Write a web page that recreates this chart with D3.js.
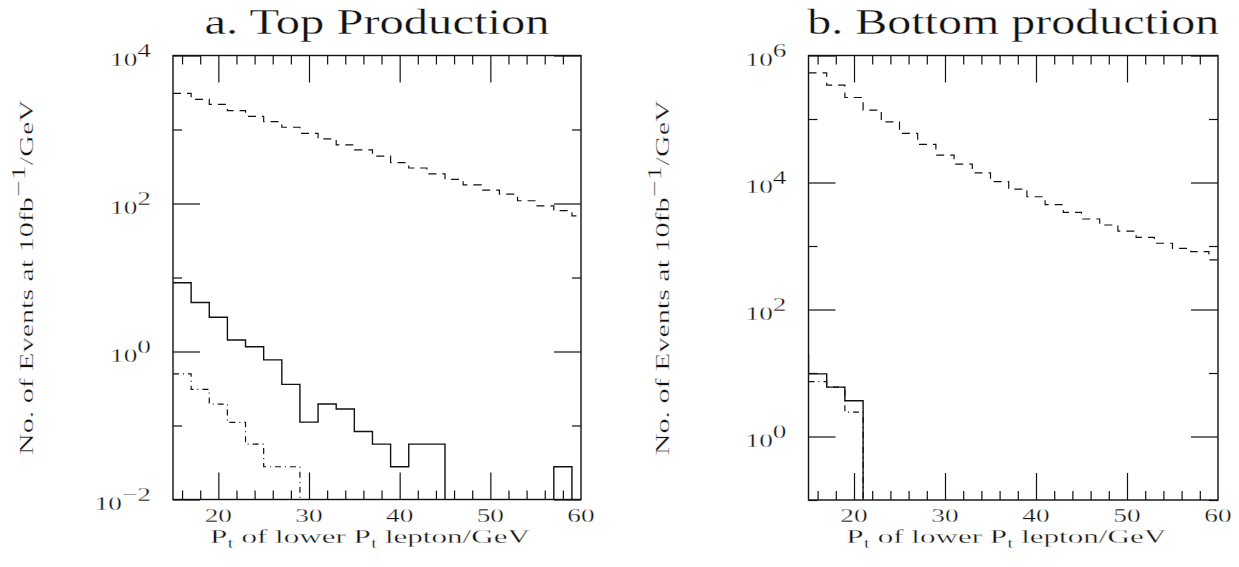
<!DOCTYPE html>
<html><head><meta charset="utf-8">
<script src="https://cdn.jsdelivr.net/npm/d3@7"></script>
<style>
body{margin:0;background:#fff}
svg{display:block}
text{font-family:"Liberation Serif","DejaVu Serif",serif;fill:#111;stroke:#fff;stroke-width:0.3px;paint-order:fill}
</style>
</head><body>
<svg id="c" width="1239" height="567"></svg>
<script>
// ---------- data ----------
const binStarts = [15,17,19,21,23,25,27,29,31,33,35,37,39,41,43,45,47,49,51,53,55,57,59];
const binWidth = 2;
// a. Top production
const topDashed  = [3085,2560,2188,1795,1507,1274,1072,889,745,618,529,438,356,302,251,212,178,152,134,109,93,80,68];
const topSolid   = [8.5,4.6,2.9,1.43,1.16,0.77,0.36,0.111,0.195,0.167,0.083,0.056,0.0277,0.056,0.056,0,0,0,0,0,0,0.0277,0];
const topDashDot = [0.5,0.308,0.195,0.110,0.056,0.0277,0.0277,0,0,0,0,0,0,0,0,0,0,0,0,0,0,0,0];
// b. Bottom production
const botDashed  = [533000,341000,218000,138000,90100,59300,39800,27000,19500,14200,10300,7890,5970,4470,3390,2660,2140,1720,1370,1105,920,813,603];
const botSolid   = [9.7,5.99,3.65,0,0,0,0,0,0,0,0,0,0,0,0,0,0,0,0,0,0,0,0];
const botSolidPrevBin = [13, 19];   // bin just left of the window (13-15 GeV)
const botDashDot = [7.3,5.99,2.42,0,0,0,0,0,0,0,0,0,0,0,0,0,0,0,0,0,0,0,0];

const xMajorTicks = [20,30,40,50];
const xMinorTicks = [16,18,22,24,26,28,32,34,36,38,42,44,46,48,52,54,56,58];
const xTickLabels = [20,30,40,50,60];
const topYLabelExp = [-2,0,2,4];
const topYMinorExp = [-1,1,3];
const botYLabelExp = [0,2,4,6];
const botYMinorExp = [-1,1,3,5];

const titles = ["a. Top Production","b. Bottom production"];
const xLabel = ["P","t"," of lower ","P","t"," lepton/GeV"];
const yLabel = ["No. of Events at 10fb","\u22121","/GeV"];

// ---------- drawing ----------
const svg = d3.select("#c");
const INK = "#111";

function fitGroup(g, target){
  const w = g.select("text").node().getBBox().width;
  return target / w;
}

function panel(cfg){
  const {x0,x1,yTop,yBot,ydom,labelExp,minorExp,series,title,titleW,id} = cfg;
  const x = d3.scaleLinear().domain([15,60]).range([x0,x1]);
  const y = d3.scaleLog().domain(ydom).range([yBot,yTop]);
  const g = svg.append("g");

  g.append("clipPath").attr("id","clip"+id).append("rect")
    .attr("x",x0).attr("y",yTop).attr("width",x1-x0).attr("height",yBot-yTop);

  // histograms
  const yv = v => v>0 ? y(v) : yBot+30;
  const line = d3.line().x(d=>x(d[0])).y(d=>yv(d[1])).curve(d3.curveStepAfter);
  const plot = g.append("g").attr("clip-path","url(#clip"+id+")");
  series.forEach(s=>{
    let pts = binStarts.map((b,i)=>[b,s.values[i]]);
    pts.push([binStarts[binStarts.length-1]+binWidth, s.values[s.values.length-1]]);
    if(s.prev) pts.unshift(s.prev);
    plot.append("path").attr("d",line(pts)).attr("fill","none")
      .attr("stroke",INK).attr("stroke-width",s.w||1.3)
      .attr("stroke-dasharray",s.dash||null);
  });

  // frame
  g.append("rect").attr("x",x0).attr("y",yTop).attr("width",x1-x0).attr("height",yBot-yTop)
    .attr("fill","none").attr("stroke",INK).attr("stroke-width",1.4);

  const styleAxis = a => { a.select(".domain").remove(); a.selectAll("line").attr("stroke",INK).attr("stroke-width",1.2); a.selectAll("text").remove(); };
  const majV = labelExp.map(e=>Math.pow(10,e));
  const minV = minorExp.map(e=>Math.pow(10,e));
  [[d3.axisBottom, yBot],[d3.axisTop, yTop]].forEach(([ax,pos])=>{
    g.append("g").attr("transform",`translate(0,${pos})`).call(ax(x).tickValues(xMajorTicks).tickSize(-27).tickFormat("")).call(styleAxis);
    g.append("g").attr("transform",`translate(0,${pos})`).call(ax(x).tickValues(xMinorTicks).tickSize(-9).tickFormat("")).call(styleAxis);
  });
  [[d3.axisLeft, x0],[d3.axisRight, x1]].forEach(([ax,pos])=>{
    g.append("g").attr("transform",`translate(${pos},0)`).call(ax(y).tickValues(majV).tickSize(-27).tickFormat("")).call(styleAxis);
    g.append("g").attr("transform",`translate(${pos},0)`).call(ax(y).tickValues(minV).tickSize(-9).tickFormat("")).call(styleAxis);
  });

  const SX = 1.4, FS = 19.5;
  // x tick labels
  xTickLabels.forEach(v=>{
    g.append("g").attr("transform",`translate(${x(v)},${yBot+22}) scale(${SX},1)`)
      .append("text").attr("text-anchor","middle").attr("font-size",FS).text(v);
  });
  // y tick labels
  labelExp.forEach(e=>{
    const t = g.append("g").attr("transform",`translate(${x0-22},${y(Math.pow(10,e))+10}) scale(${SX},1)`)
      .append("text").attr("text-anchor","end").attr("font-size",FS);
    t.append("tspan").text("10");
    t.append("tspan").attr("dy",-8.5).text(e<0 ? "\u2212"+(-e) : String(e));
  });

  // title
  const tg = g.append("g");
  tg.append("text").attr("text-anchor","middle").attr("font-size",35).text(title);
  const kt = fitGroup(tg, titleW);
  tg.attr("transform",`translate(${(x0+x1)/2},34) scale(${kt},1)`);

  // x label
  const xg = g.append("g");
  const xt = xg.append("text").attr("text-anchor","middle").attr("font-size",FS);
  xLabel.forEach((s,i)=>{
    const sp = xt.append("tspan").text(s);
    if(s==="t"){ sp.attr("font-size",14).attr("dy",5); }
    else if(i>0 && xLabel[i-1]==="t"){ sp.attr("dy",-5); }
  });
  const kx = fitGroup(xg, 320);
  xg.attr("transform",`translate(${(x0+x1)/2-7},543) scale(${kx},1)`);

  // y label
  const yg = g.append("g");
  const yt = yg.append("text").attr("text-anchor","middle").attr("font-size",FS);
  yt.append("tspan").text(yLabel[0]);
  yt.append("tspan").attr("dy",-8).text(yLabel[1]);
  yt.append("tspan").attr("dy",8).text(yLabel[2]);
  const ky = fitGroup(yg, 355);
  yg.attr("transform",`translate(${x0-140},${(yTop+yBot)/2}) rotate(-90) scale(${ky},1)`);
}

panel({id:"a", x0:173, x1:581, yTop:55.5, yBot:499.5, ydom:[1e-2,1e4],
  labelExp:topYLabelExp, minorExp:topYMinorExp, title:titles[0], titleW:345,
  series:[
    {values:topDashed, dash:"8,6", w:1.2},
    {values:topSolid, w:1.4},
    {values:topDashDot, dash:"6,4,1,4", w:1.2}
  ]});
panel({id:"b", x0:808.5, x1:1218, yTop:55.5, yBot:500, ydom:[1e-1,1e6],
  labelExp:botYLabelExp, minorExp:botYMinorExp, title:titles[1], titleW:412,
  series:[
    {values:botDashed, dash:"8,6", w:1.2},
    {values:botDashDot, dash:"6,4,1,4", w:1.2},
    {values:botSolid, prev:botSolidPrevBin, w:1.4}
  ]});
</script>
</body></html>
